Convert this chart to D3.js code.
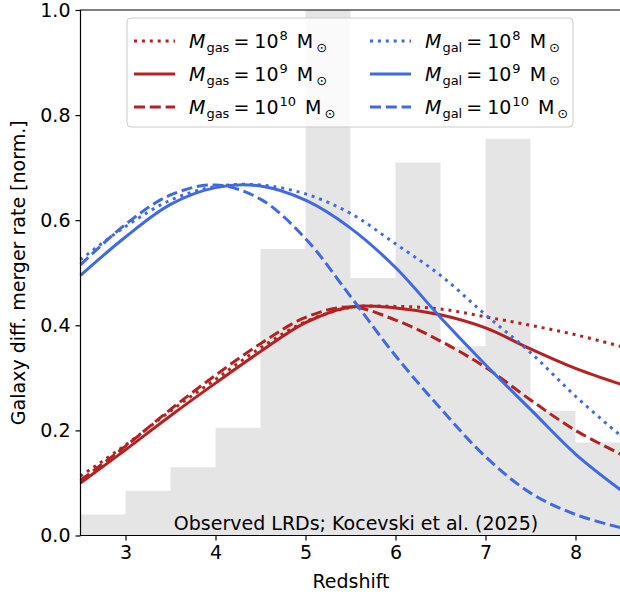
<!DOCTYPE html>
<html>
<head>
<meta charset="utf-8">
<script src="https://cdn.jsdelivr.net/npm/d3@7"></script>
<style>
  body { margin: 0; background: #fff; }
  svg { font-family: "DejaVu Sans", sans-serif; }
</style>
</head>
<body>
<svg width="620" height="594"></svg>
<script>
// Datos
const redshift = [2.5, 3.0, 3.5, 4.0, 4.5, 5.0, 5.5, 6.0, 6.5, 7.0, 7.5, 8.0, 8.5];

// Mgal (azul)
const gal8  = [0.525, 0.588, 0.638, 0.664, 0.667, 0.650, 0.613, 0.555, 0.495, 0.420, 0.348, 0.265, 0.190];
const gal9  = [0.495, 0.568, 0.630, 0.662, 0.665, 0.638, 0.585, 0.510, 0.415, 0.325, 0.240, 0.155, 0.087];
const gal10 = [0.515, 0.592, 0.648, 0.667, 0.640, 0.565, 0.455, 0.342, 0.242, 0.150, 0.081, 0.040, 0.015];

// Mgas (rojo)
const gas8  = [0.113, 0.172, 0.237, 0.297, 0.357, 0.407, 0.434, 0.436, 0.431, 0.416, 0.400, 0.382, 0.360];
const gas9  = [0.100, 0.163, 0.228, 0.290, 0.350, 0.405, 0.435, 0.433, 0.420, 0.395, 0.355, 0.318, 0.288];
const gas10 = [0.105, 0.170, 0.240, 0.305, 0.365, 0.415, 0.435, 0.410, 0.370, 0.320, 0.258, 0.200, 0.155];

// Histograma de LRDs observados
const binEdges = [2.5, 3.0, 3.5, 4.0, 4.5, 5.0, 5.5, 6.0, 6.5, 7.0, 7.5, 8.0, 8.5];
const binValues = [0.04, 0.085, 0.13, 0.205, 0.545, 1.0, 0.49, 0.71, 0.36, 0.755, 0.237, 0.177];

const xTicks = [3, 4, 5, 6, 7, 8];
const yTicks = [0.0, 0.2, 0.4, 0.6, 0.8, 1.0];

const series = [
    { label: "gas", exp: "8",  values: gas8,  color: "#b22222", dash: "3,4.9" },
    { label: "gas", exp: "9",  values: gas9,  color: "#b22222", dash: null },
    { label: "gas", exp: "10", values: gas10, color: "#b22222", dash: "11,4.8" },
    { label: "gal", exp: "8",  values: gal8,  color: "#4169e1", dash: "3,4.9" },
    { label: "gal", exp: "9",  values: gal9,  color: "#4169e1", dash: null },
    { label: "gal", exp: "10", values: gal10, color: "#4169e1", dash: "11,4.8" }
];

const svg = d3.select("svg");
const mLeft = 80.5, mRight = 620.5, mTop = 10, mBottom = 535.5;
const fs = 19;

const x = d3.scaleLinear().domain([2.5, 8.5]).range([mLeft, mRight]);
const y = d3.scaleLinear().domain([0, 1]).range([mBottom, mTop]);

// Histograma
const histPts = binEdges.map((e, i) => [e, i < binValues.length ? binValues[i] : binValues[binValues.length - 1]]);
svg.append("path")
    .datum(histPts)
    .attr("fill", "#e5e5e5")
    .attr("d", d3.area().curve(d3.curveStepAfter)
        .x(d => x(d[0])).y0(y(0)).y1(d => y(d[1])));

// Curvas
const line = d3.line().curve(d3.curveCatmullRom.alpha(0.5))
    .x((d, i) => x(redshift[i])).y(d => y(d));

series.forEach(s => {
    svg.append("path")
        .datum(s.values)
        .attr("fill", "none")
        .attr("stroke", s.color)
        .attr("stroke-width", 3)
        .attr("stroke-dasharray", s.dash)
        .attr("d", line);
});

// Ejes
const xAxis = svg.append("g")
    .attr("transform", "translate(0," + mBottom + ")")
    .call(d3.axisBottom(x).tickValues(xTicks).tickSize(5).tickPadding(5).tickFormat(d3.format("d")));
const yAxis = svg.append("g")
    .attr("transform", "translate(" + mLeft + ",0)")
    .call(d3.axisLeft(y).tickValues(yTicks).tickSize(5).tickPadding(5).tickFormat(d3.format(".1f")));

[xAxis, yAxis].forEach(a => {
    a.select(".domain").remove();
    a.selectAll("line").attr("stroke", "#000").attr("stroke-width", 1.2);
    a.selectAll("text").attr("font-size", fs).attr("fill", "#000")
        .attr("font-family", "DejaVu Sans");
});

// Marco
svg.append("path")
    .attr("d", `M${mLeft},${mBottom}V${mTop}H${mRight}`)
    .attr("fill", "none").attr("stroke", "#000").attr("stroke-width", 1.2);
svg.append("line")
    .attr("x1", mLeft - 0.6).attr("x2", mRight).attr("y1", mBottom).attr("y2", mBottom)
    .attr("stroke", "#000").attr("stroke-width", 1.2);

// Etiquetas
svg.append("text")
    .attr("x", 351).attr("y", 588)
    .attr("text-anchor", "middle").attr("font-size", fs)
    .text("Redshift");

svg.append("text")
    .attr("transform", `translate(25,${(mTop + mBottom) / 2}) rotate(-90)`)
    .attr("text-anchor", "middle").attr("font-size", fs)
    .text("Galaxy diff. merger rate [norm.]");

svg.append("text")
    .attr("x", 356).attr("y", 530)
    .attr("text-anchor", "middle").attr("font-size", fs)
    .text("Observed LRDs; Kocevski et al. (2025)");

// Leyenda
const legend = svg.append("g");
legend.append("rect")
    .attr("x", 127).attr("y", 18).attr("width", 446).attr("height", 109)
    .attr("rx", 4)
    .attr("fill", "rgba(255,255,255,0.8)")
    .attr("stroke", "#cccccc").attr("stroke-width", 1);

series.forEach((s, i) => {
    const col = Math.floor(i / 3), row = i % 3;
    const hx = col === 0 ? 134 : 370;
    const ry = 41 + row * 33;
    legend.append("line")
        .attr("x1", hx).attr("x2", hx + 41).attr("y1", ry).attr("y2", ry)
        .attr("stroke", s.color).attr("stroke-width", 3)
        .attr("stroke-dasharray", s.dash);

    const t = legend.append("text")
        .attr("x", hx + 55).attr("y", ry + 7)
        .attr("font-size", fs);
    t.append("tspan").attr("font-style", "italic").text("M");
    t.append("tspan").attr("font-size", 13).attr("dy", 4).attr("dx", 1).text(s.label);
    t.append("tspan").attr("dy", -4).attr("dx", 4).text("=");
    t.append("tspan").attr("dx", 5).text("10");
    t.append("tspan").attr("font-size", 13).attr("dy", -8).attr("dx", 1).text(s.exp);
    t.append("tspan").attr("dy", 8).attr("dx", 9).text("M");
    t.append("tspan").attr("font-size", 13).attr("dy", 4).attr("dx", 3).text("\u2299");
});
</script>
</body>
</html>
